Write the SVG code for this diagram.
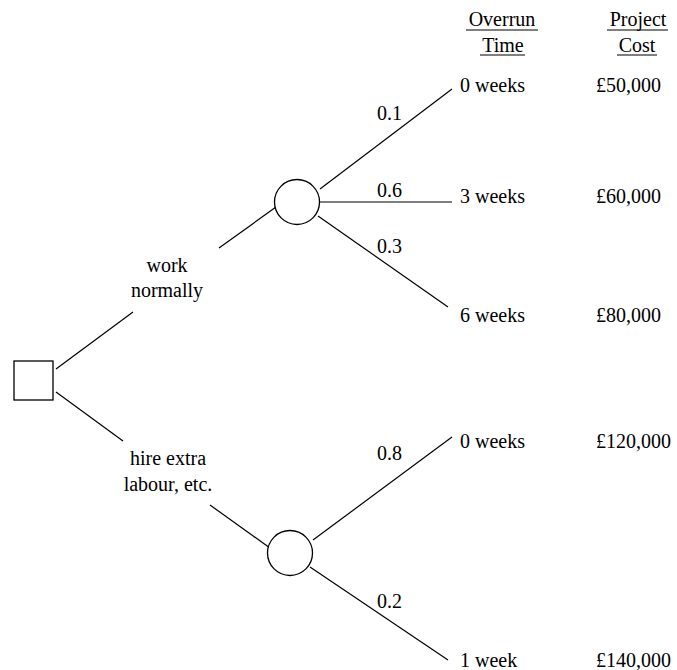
<svg xmlns="http://www.w3.org/2000/svg" width="677" height="670" viewBox="0 0 677 670">
<style>
text{font-family:"Liberation Serif","Times New Roman",serif;font-size:20px;fill:#000}
.c{text-anchor:middle}
.ln{stroke:#000;stroke-width:1.2;fill:none}
.nd{stroke:#000;stroke-width:1.3;fill:#fff}
</style>
<rect width="677" height="670" fill="#fff"/>
<g id="header">
<text class="c" x="502" y="26">Overrun</text>
<text class="c" x="503" y="52">Time</text>
<text class="c" x="638" y="26">Project</text>
<text class="c" x="637" y="52">Cost</text>
<line class="ln" x1="466" y1="30" x2="538" y2="30"/>
<line class="ln" x1="480" y1="55" x2="525" y2="55"/>
<line class="ln" x1="607" y1="30" x2="668" y2="30"/>
<line class="ln" x1="617" y1="55" x2="657" y2="55"/>
</g>
<g id="connectors">
<line class="ln" x1="56" y1="369" x2="133" y2="312"/>
<line class="ln" x1="219" y1="248" x2="276" y2="207"/>
<line class="ln" x1="320" y1="189" x2="452" y2="89"/>
<line class="ln" x1="320" y1="202" x2="452" y2="202"/>
<line class="ln" x1="318" y1="216" x2="448" y2="307"/>
<line class="ln" x1="56" y1="392" x2="123" y2="441"/>
<line class="ln" x1="210" y1="505" x2="270" y2="548"/>
<line class="ln" x1="313" y1="540" x2="452" y2="437"/>
<line class="ln" x1="310" y1="567" x2="448" y2="660"/>
</g>
<g id="edge-labels">
<text class="c" x="167" y="272">work</text>
<text class="c" x="167" y="297">normally</text>
<text class="c" x="168" y="465">hire extra</text>
<text class="c" x="168" y="491">labour, etc.</text>
<text x="377" y="120">0.1</text>
<text x="377" y="197">0.6</text>
<text x="377" y="253">0.3</text>
<text x="377" y="460">0.8</text>
<text x="377" y="608">0.2</text>
</g>
<g id="decision">
<rect class="nd" x="14" y="361" width="39" height="39"/>
</g>
<g id="chance-1">
<circle class="nd" cx="297" cy="202" r="22.5"/>
</g>
<g id="chance-2">
<circle class="nd" cx="290" cy="553" r="22.5"/>
</g>
<g id="outcome-1"><text x="460" y="92">0 weeks</text><text x="596" y="92">£50,000</text></g>
<g id="outcome-2"><text x="460" y="203">3 weeks</text><text x="596" y="203">£60,000</text></g>
<g id="outcome-3"><text x="460" y="322">6 weeks</text><text x="596" y="322">£80,000</text></g>
<g id="outcome-4"><text x="460" y="448">0 weeks</text><text x="596" y="448">£120,000</text></g>
<g id="outcome-5"><text x="460" y="667">1 week</text><text x="596" y="667">£140,000</text></g>
</svg>
